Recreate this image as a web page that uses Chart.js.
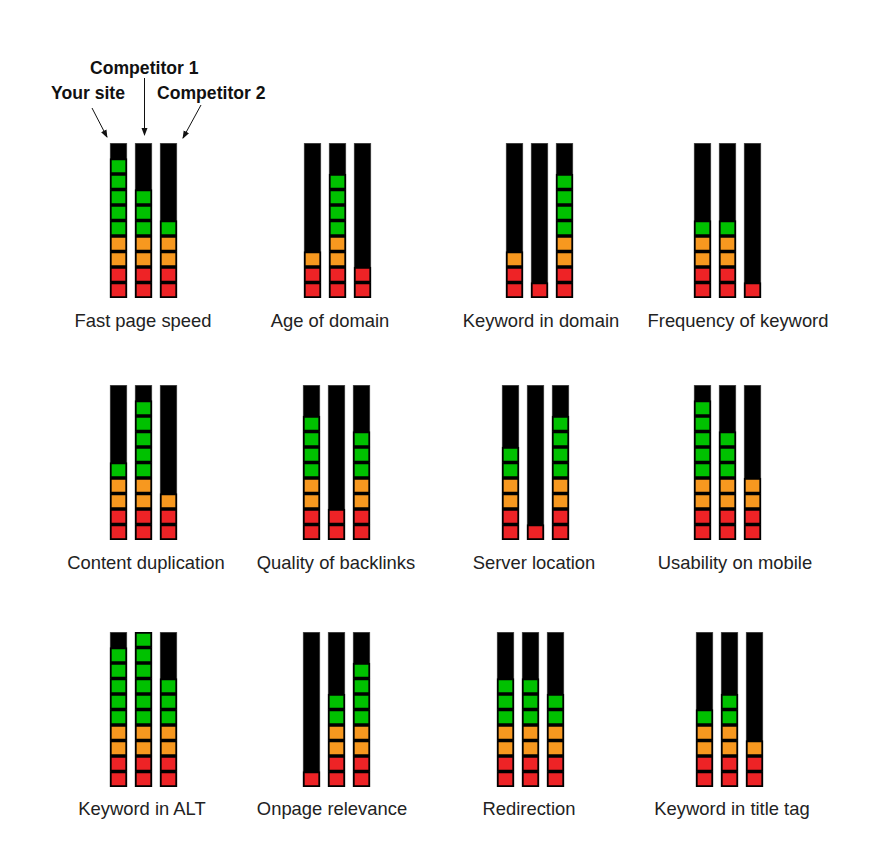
<!DOCTYPE html>
<html>
<head>
<meta charset="utf-8">
<script src="https://cdn.jsdelivr.net/npm/chart.js@4.4.0/dist/chart.umd.min.js"></script>
<style>
body { margin: 0; background: #fff; font-family: Arial, "Liberation Sans", sans-serif; }
#wrap { position: relative; width: 880px; height: 864px; }
.panel { position: absolute; width: 75px; height: 155px; }
.lbl { position: absolute; font-size: 18.4px; line-height: 20px; color: #222; white-space: nowrap; transform: translate(-50%, -50%); }
.ann { position: absolute; font-size: 17.6px; line-height: 20px; font-weight: bold; color: #111; white-space: nowrap; }
svg { position: absolute; left: 0; top: 0; }
</style>
</head>
<body>
<div id="wrap">
  <div class="ann" style="left:90px;top:58px;">Competitor 1</div>
  <div class="ann" style="left:51px;top:83px;">Your site</div>
  <div class="ann" style="left:157px;top:83px;">Competitor 2</div>
  <svg width="880" height="864">
    <defs>
      <marker id="ah" markerWidth="8" markerHeight="8" refX="7" refY="4" orient="auto" markerUnits="userSpaceOnUse">
        <path d="M0,1 L8,4 L0,7 z" fill="#111"/>
      </marker>
    </defs>
    <line x1="92" y1="108" x2="107" y2="137" stroke="#111" stroke-width="1" marker-end="url(#ah)"/>
    <line x1="144.5" y1="78" x2="144.5" y2="135" stroke="#111" stroke-width="1" marker-end="url(#ah)"/>
    <line x1="201" y1="105" x2="183" y2="138" stroke="#111" stroke-width="1" marker-end="url(#ah)"/>
  </svg>
</div>
<script>
// panel titles and the three sites
var categories = ['Fast page speed', 'Age of domain', 'Keyword in domain', 'Frequency of keyword',
                  'Content duplication', 'Quality of backlinks', 'Server location', 'Usability on mobile',
                  'Keyword in ALT', 'Onpage relevance', 'Redirection', 'Keyword in title tag'];
var sites = ['Your site', 'Competitor 1', 'Competitor 2'];

// lit segments out of 10
var yourSite    = [9, 3, 3, 5, 5, 8, 6, 9, 9, 1, 7, 5];
var competitor1 = [7, 8, 1, 5, 9, 2, 1, 7, 10, 6, 7, 6];
var competitor2 = [5, 2, 8, 1, 3, 7, 8, 4, 7, 8, 6, 3];
var maxLevel = 10;

// layout of panels (left of canvas, top of bars) and label centers
var panelLeft = [106, 300, 502, 690, 106, 299, 498, 690, 106, 299, 493, 692];
var panelTop  = [143, 143, 143, 143, 385, 385, 385, 385, 632, 632, 632, 632];
var labelX = [143, 330, 541, 738, 146, 336, 534, 735, 142, 332, 529, 732];
var labelY = [321, 321, 321, 321, 563, 563, 563, 563, 809, 809, 809, 809];

Chart.defaults.animation = false;

function levelColor(k) {
    if (k <= 2) return '#ee2326';
    if (k <= 4) return '#f7981f';
    return '#00c100';
}

var wrap = document.getElementById('wrap');

categories.forEach(function (name, i) {
    var box = document.createElement('div');
    box.className = 'panel';
    box.style.left = panelLeft[i] + 'px';
    box.style.top = panelTop[i] + 'px';
    var cv = document.createElement('canvas');
    box.appendChild(cv);
    wrap.appendChild(box);

    var lbl = document.createElement('div');
    lbl.className = 'lbl';
    lbl.style.left = labelX[i] + 'px';
    lbl.style.top = labelY[i] + 'px';
    lbl.textContent = name;
    wrap.appendChild(lbl);

    var vals = [yourSite[i], competitor1[i], competitor2[i]];
    var datasets = [{
        label: 'bg',
        data: sites.map(function () { return maxLevel; }),
        stack: 'bg',
        grouped: false,
        order: 2,
        backgroundColor: '#000',
        borderColor: '#555',
        borderWidth: 1,
        borderSkipped: false,
        barThickness: 17
    }];
    for (var k = 1; k <= maxLevel; k++) {
        datasets.push({
            label: 'L' + k,
            data: vals.map(function (v) { return v >= k ? 1 : null; }),
            stack: 'seg',
            order: 1,
            backgroundColor: levelColor(k),
            borderColor: '#000',
            borderWidth: 2,
            borderSkipped: false,
            barThickness: 17
        });
    }

    new Chart(cv, {
        type: 'bar',
        data: { labels: sites, datasets: datasets },
        options: {
            responsive: true,
            maintainAspectRatio: false,
            layout: { padding: 0 },
            plugins: { legend: { display: false }, tooltip: { enabled: false } },
            scales: {
                x: { display: false },
                y: { display: false, stacked: true, min: 0, max: maxLevel }
            }
        }
    });
});
</script>
</body>
</html>
